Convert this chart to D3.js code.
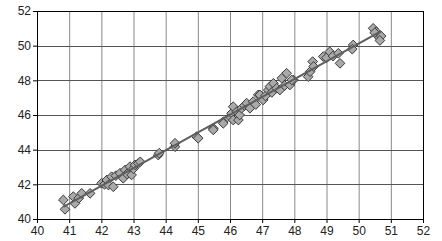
<!DOCTYPE html>
<html>
<head>
<meta charset="utf-8">
<script src="https://cdn.jsdelivr.net/npm/d3@7"></script>
<style>
  body { margin: 0; background: #fff; }
  svg { display: block; }
</style>
</head>
<body>
<svg></svg>
<script>
const svgWidth = 442
const svgHeight = 241
const margins = { top: 11, bottom: 22, left: 37, right: 19 }
const plotWidth = svgWidth - margins.left - margins.right
const plotHeight = svgHeight - margins.top - margins.bottom

// points
const xValues = [40.82, 40.87, 41.13, 41.18, 41.3, 41.39, 41.65, 42.01, 42.1, 42.17, 42.22, 42.32, 42.37, 42.45, 42.58, 42.68, 42.74, 42.8, 42.89, 42.94,
  43.0, 43.05, 43.15, 43.21, 43.77, 43.8, 44.29, 44.29, 44.96, 45.01, 45.48, 45.48, 45.79, 45.79, 46.0, 46.05, 46.1, 46.1, 46.21, 46.26, 46.3,
  46.36, 46.45, 46.52, 46.62, 46.72, 46.8, 46.88, 46.93, 47.03, 47.1, 47.19, 47.24, 47.3, 47.35, 47.45, 47.55, 47.61, 47.7, 47.76, 47.86,
  47.97, 47.92, 48.43, 48.49, 48.57, 48.6, 48.9, 49.0, 49.1, 49.2, 49.37, 49.42, 49.83, 49.8, 50.45, 50.55, 50.62, 50.7, 50.66, 50.5]
const yValues = [41.1, 40.56, 41.29, 40.9, 41.2, 41.48, 41.48, 42.06, 42.0, 42.25, 41.96, 42.44, 41.86, 42.5, 42.64, 42.35, 42.83, 42.6, 43.02, 42.54,
  42.9, 43.12, 43.21, 43.3, 43.69, 43.8, 44.17, 44.37, 44.75, 44.66, 45.23, 45.14, 45.61, 45.52, 45.9, 46.1, 45.71, 46.48, 46.19, 45.71, 46.0,
  46.39, 46.55, 46.68, 46.39, 46.77, 46.6, 47.16, 47.16, 46.87, 47.1, 47.44, 47.64, 47.3, 47.83, 47.54, 47.44, 48.12, 47.7, 48.41, 47.73,
  48.02, 48.02, 48.21, 48.5, 49.08, 48.8, 49.37, 49.3, 49.65, 49.4, 49.56, 48.98, 50.04, 49.8, 51.0, 50.8, 50.5, 50.55, 50.3, 50.75]
const xTicks = [40, 41, 42, 43, 44, 45, 46, 47, 48, 49, 50, 51, 52]
const yTicks = [40, 42, 44, 46, 48, 50, 52]

const points = xValues.map((x, i) => ({ x: x, y: yValues[i] }))

const svg = d3.select("svg")
    .attr("width", svgWidth)
    .attr("height", svgHeight)

const xScale = d3.scaleLinear().domain([40, 52]).range([0, plotWidth])
const yScale = d3.scaleLinear().domain([40, 52]).range([plotHeight, 0])

const plot = svg.append("g")
    .attr("transform", `translate(${margins.left},${margins.top})`)

// vertical grid
plot.selectAll(".vgrid")
    .data(xTicks)
    .join("line")
    .attr("x1", d => xScale(d) + 0.5)
    .attr("x2", d => xScale(d) + 0.5)
    .attr("y1", 0)
    .attr("y2", plotHeight)
    .attr("stroke", d => d === 52 ? "#000" : "#8a8a8a")
    .attr("stroke-width", 1)

// horizontal grid
plot.selectAll(".hgrid")
    .data(yTicks)
    .join("line")
    .attr("x1", 0)
    .attr("x2", plotWidth)
    .attr("y1", d => Math.round(yScale(d)) + 0.5)
    .attr("y2", d => Math.round(yScale(d)) + 0.5)
    .attr("stroke", d => d === 52 ? "#000" : "#555")
    .attr("stroke-width", 1)

const xAxis = plot.append("g")
    .attr("transform", `translate(0,${plotHeight})`)
    .call(d3.axisBottom(xScale).tickValues(xTicks).tickSize(4).tickPadding(3).tickFormat(d3.format("d")))
const yAxis = plot.append("g")
    .call(d3.axisLeft(yScale).tickValues(yTicks).tickSize(4).tickPadding(2).tickFormat(d3.format("d")))

svg.selectAll(".tick text")
    .attr("font-family", "Liberation Sans, Arial, sans-serif")
    .attr("font-size", 12)
    .attr("fill", "#222")
svg.selectAll(".domain").attr("stroke", "#000")

// least squares fit line
const mx = d3.mean(points, d => d.x)
const my = d3.mean(points, d => d.y)
const slope = d3.sum(points, d => (d.x - mx) * (d.y - my)) / d3.sum(points, d => (d.x - mx) ** 2)
const intercept = my - slope * mx
const [x0, x1] = d3.extent(xValues)

const diamond = d3.symbol().type(d3.symbolDiamond2).size(60)
plot.selectAll(".pt")
    .data(points)
    .join("path")
    .attr("d", diamond)
    .attr("transform", d => `translate(${xScale(d.x)},${yScale(d.y)})`)
    .attr("fill", "#a9a9a9")
    .attr("stroke", "#3a3a3a")
    .attr("stroke-width", 1)

plot.append("line")
    .attr("x1", xScale(x0))
    .attr("y1", yScale(intercept + slope * x0))
    .attr("x2", xScale(x1))
    .attr("y2", yScale(intercept + slope * x1))
    .attr("stroke", "#5e5e5e")
    .attr("stroke-width", 2)
</script>
</body>
</html>
